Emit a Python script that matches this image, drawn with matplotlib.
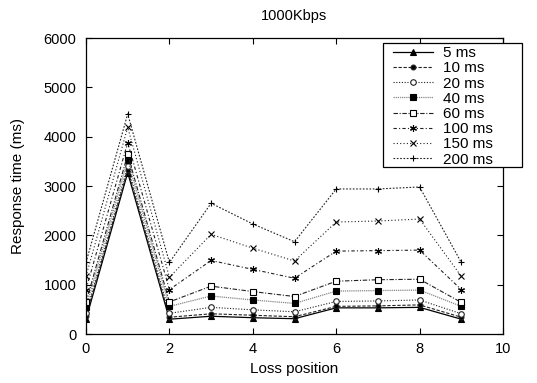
import matplotlib
matplotlib.use("Agg")
import matplotlib.pyplot as plt
from matplotlib.patches import Rectangle

plt.rcParams['font.family'] = ['Liberation Sans', 'DejaVu Sans']

positions = [0, 1, 2, 3, 4, 5, 6, 7, 8, 9]
labels = ["5 ms", "10 ms", "20 ms", "40 ms", "60 ms", "100 ms", "150 ms", "200 ms"]
d5 = [300, 3270, 300, 360, 330, 310, 530, 530, 540, 300]
d10 = [360, 3330, 340, 410, 380, 350, 560, 570, 590, 340]
d20 = [420, 3400, 420, 540, 490, 450, 660, 670, 690, 410]
d40 = [540, 3530, 560, 770, 690, 620, 870, 880, 890, 560]
d60 = [640, 3640, 650, 970, 860, 760, 1070, 1100, 1110, 640]
d100 = [900, 3880, 900, 1490, 1310, 1130, 1680, 1690, 1700, 900]
d150 = [1170, 4190, 1150, 2020, 1740, 1480, 2270, 2290, 2330, 1170]
d200 = [1450, 4460, 1450, 2650, 2230, 1870, 2940, 2940, 2980, 1450]
series = [d5, d10, d20, d40, d60, d100, d150, d200]

styles = [
    dict(ls="-", marker="^", mfc="black", color="black", lw=0.9, ms=4),
    dict(ls=(0, (3, 1.5)), marker="o", mfc="black", color="#222222", lw=0.8, ms=3.5),
    dict(ls=(0, (1, 1.5)), marker="o", mfc="white", color="#222222", lw=0.8, ms=4),
    dict(ls=(0, (1, 0.7)), marker="s", mfc="black", color="#888888", mec="black", lw=0.9, ms=4),
    dict(ls=(0, (4, 1.5, 1, 1.5)), marker="s", mfc="white", color="#222222", mec="black", lw=0.8, ms=4.5),
    dict(ls=(0, (3, 2, 1, 2)), marker=(6, 2, 0), mfc="black", color="#222222", mec="black", lw=0.8, ms=5),
    dict(ls=(0, (1, 2)), marker="x", mfc="black", color="#222222", mec="black", lw=0.8, ms=4),
    dict(ls=(0, (1.5, 1.5)), marker="+", mfc="black", color="#222222", mec="black", lw=0.8, ms=5),
]

W, H = 537, 383
fig = plt.figure(figsize=(5.37, 3.83), dpi=100)
ax = fig.add_axes([86 / W, 1 - 334 / H, (503 - 86) / W, (334 - 38) / H])

for data, lab, st in zip(series, labels, styles):
    ax.plot(positions, data, label=lab, mew=0.8, **st)

ax.set_xlim(0, 10)
ax.set_ylim(0, 6000)
ax.set_xticks([0, 2, 4, 6, 8, 10])
ax.set_yticks([0, 1000, 2000, 3000, 4000, 5000, 6000])
ax.tick_params(direction="in", top=True, right=True, length=4, labelsize=10.5, width=0.8)
ax.tick_params(axis="y", pad=7)
ax.tick_params(axis="x", pad=6)
for s in ax.spines.values():
    s.set_linewidth(0.9)
ax.set_xlabel("Loss position", fontsize=11, labelpad=4)
ax.set_ylabel("Response time (ms)", fontsize=11, labelpad=13)
ax.set_title("1000Kbps", fontsize=10.5, pad=13)

# legend box (gnuplot style, extra space on the right)
box = Rectangle((383 / W, 1 - 167 / H), (522 - 383) / W, (167 - 43) / H,
                transform=fig.transFigure, facecolor="white", edgecolor="black",
                linewidth=0.9, zorder=5)
fig.add_artist(box)

leg = fig.legend(*ax.get_legend_handles_labels(), loc="upper left",
                 bbox_to_anchor=(390 / W, 1 - 43 / H), bbox_transform=fig.transFigure,
                 fontsize=11, frameon=False, borderpad=0.2, labelspacing=0.08,
                 handlelength=2.6, handletextpad=0.65, borderaxespad=0)
leg.set_zorder(6)

fig.savefig("out.png", dpi=100)
